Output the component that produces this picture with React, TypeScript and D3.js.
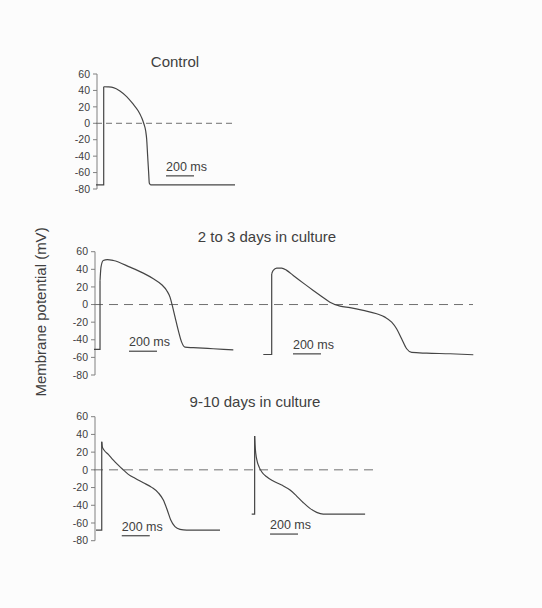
import React from "react";
import * as d3 from "d3";

// ---- data (times in ms from trace start, potentials in mV) ----
const yTicks = [60, 40, 20, 0, -20, -40, -60, -80];
const yTickLabels = ["60", "40", "20", "0", "-20", "-40", "-60", "-80"];

const panelTitles = ["Control", "2 to 3 days in culture", "9-10 days in culture"];
const yAxisTitle = "Membrane potential (mV)";
const scaleBarLabel = "200 ms";
const scaleBarMs = 200;

const controlT = [0, 55, 55, 85, 124, 171, 219, 266, 302, 326, 343, 355, 362, 369, 376, 381, 392, 993];
const controlV = [-75, -75, 44.5, 44.3, 43.5, 39.4, 32.5, 23.2, 15, 6.9, -1.2, -9.4, -19.5, -39.9, -60, -73, -75, -75];

const day2aT = [0, 43, 43, 50, 66, 95, 138, 257, 352, 424, 484, 519, 543, 559, 579, 602, 626, 650, 709, 852, 995];
const day2aV = [-51, -51, 27, 42.5, 50, 51, 50, 42.5, 35.7, 29.3, 22.5, 16, 8.4, -1, -14.3, -29.4, -42.7, -48.4, -49, -50.2, -51.4];

const day2bT = [0, 60, 60, 71, 96, 131, 167, 214, 286, 357, 417, 476, 548, 619, 714, 810, 869, 917, 952, 988, 1024, 1060, 1167, 1334, 1500];
const day2bV = [-56.7, -56.7, 35, 38.8, 41.4, 41.4, 38.8, 33, 24.3, 16, 9.2, 2.7, -1.8, -3.6, -6.7, -10.5, -14.3, -20, -27.5, -38.9, -50.2, -54.4, -55.2, -55.9, -57];

const day9aT = [0, 41, 41, 45, 57, 88, 124, 159, 196, 231, 279, 338, 398, 445, 481, 509, 534, 564, 600, 648, 886];
const day9aV = [-68, -68, 31.7, 26, 22.4, 17.5, 11, 5.4, -0.2, -5.1, -9.6, -14.6, -19.8, -25.9, -34.1, -45.4, -56.7, -64.2, -67.2, -68, -68];

const day9bT = [0, 21, 21, 24, 29, 40, 54, 71, 107, 154, 214, 274, 321, 369, 416, 464, 511, 810];
const day9bV = [-49.9, -49.9, 38.2, 28, 18.6, 9.1, 2.8, -2.1, -7.8, -12.6, -17.2, -22.8, -29.6, -37.1, -43.5, -48, -49.9, -49.9];

// scale bar placement (start time in ms, potential in mV) for each trace
const scaleBarStartMs = [500, 250, 212, 184, 131];
const scaleBarMv = [-64, -53, -56, -74.4, -72.5];

// ---- layout ----
const W = 542;
const H = 608;
const PX_PER_MS = 0.14;

const rows = [
  { yTop: 74, yBot: 189, axisX: 97, zeroFrom: 96, zeroTo: 233, dash: "6,4", titleX: 175, titleY: 67 },
  { yTop: 251.7, yBot: 375, axisX: 95, zeroFrom: 94, zeroTo: 473, dash: "9,6", titleX: 267, titleY: 242 },
  { yTop: 416.7, yBot: 540.7, axisX: 95, zeroFrom: 94, zeroTo: 377, dash: "9,6", titleX: 255, titleY: 407 },
];

const traces = [
  { t: controlT, v: controlV, row: 0, x0: 96 },
  { t: day2aT, v: day2aV, row: 1, x0: 94 },
  { t: day2bT, v: day2bV, row: 1, x0: 263.3 },
  { t: day9aT, v: day9aV, row: 2, x0: 96 },
  { t: day9bT, v: day9bV, row: 2, x0: 251.7 },
];

const FONT = "'Liberation Sans', Arial, Helvetica, sans-serif";
const TRACE = "#454545";
const AXIS = "#808080";
const TEXT = "#404040";

export default function App() {
  const yScales = rows.map((r) =>
    d3.scaleLinear().domain([-80, 60]).range([r.yBot, r.yTop])
  );

  return (
    <svg
      width={W}
      height={H}
      viewBox={`0 0 ${W} ${H}`}
      style={{ position: "absolute", left: 0, top: 0, display: "block", background: "#fcfcfc" }}
    >
      <rect x={0} y={0} width={W} height={H} fill="#fcfcfc" />

      {rows.map((r, i) => (
        <text
          key={"title" + i}
          x={r.titleX}
          y={r.titleY}
          textAnchor="middle"
          fontFamily={FONT}
          fontSize={15}
          fill={TEXT}
        >
          {panelTitles[i]}
        </text>
      ))}

      <text
        transform={`translate(46,312) rotate(-90)`}
        textAnchor="middle"
        fontFamily={FONT}
        fontSize={15}
        fill={TEXT}
      >
        {yAxisTitle}
      </text>

      {rows.map((r, i) => {
        const y = yScales[i];
        return (
          <g key={"axis" + i}>
            <line x1={r.axisX} x2={r.axisX} y1={y(60)} y2={y(-80)} stroke={AXIS} strokeWidth={1} />
            {yTicks.map((tk, j) => (
              <g key={j}>
                <line x1={r.axisX - 4} x2={r.axisX} y1={y(tk)} y2={y(tk)} stroke={AXIS} strokeWidth={1} />
                <text
                  x={r.axisX - 7}
                  y={y(tk)}
                  dy="0.35em"
                  textAnchor="end"
                  fontFamily={FONT}
                  fontSize={10.5}
                  fill={TEXT}
                >
                  {yTickLabels[j]}
                </text>
              </g>
            ))}
            <line
              x1={r.zeroFrom}
              x2={r.zeroTo}
              y1={y(0)}
              y2={y(0)}
              stroke="#707070"
              strokeWidth={1}
              strokeDasharray={r.dash}
            />
          </g>
        );
      })}

      {traces.map((tr, i) => {
        const y = yScales[tr.row];
        const x = d3
          .scaleLinear()
          .domain([0, 1000])
          .range([tr.x0, tr.x0 + 1000 * PX_PER_MS]);
        const pts: [number, number][] = tr.t.map((t, k) => [t, tr.v[k]]);
        const lin = d3
          .line<[number, number]>()
          .x((d) => x(d[0]))
          .y((d) => y(d[1]))
          .curve(d3.curveLinear);
        const smooth = d3
          .line<[number, number]>()
          .x((d) => x(d[0]))
          .y((d) => y(d[1]))
          .curve(d3.curveMonotoneX);
        const up = 2;
        const bx = x(scaleBarStartMs[i]);
        const bx2 = x(scaleBarStartMs[i] + scaleBarMs);
        const by = y(scaleBarMv[i]);
        return (
          <g key={"trace" + i}>
            <path d={lin(pts.slice(0, up + 1)) || ""} fill="none" stroke={TRACE} strokeWidth={1.2} />
            <path d={smooth(pts.slice(up)) || ""} fill="none" stroke={TRACE} strokeWidth={1.2} strokeLinejoin="round" />
            <line x1={bx} x2={bx2} y1={by} y2={by} stroke={TRACE} strokeWidth={1.2} />
            <text x={bx} y={by - 5} fontFamily={FONT} fontSize={12.5} fill={TEXT}>
              {scaleBarLabel}
            </text>
          </g>
        );
      })}
    </svg>
  );
}
